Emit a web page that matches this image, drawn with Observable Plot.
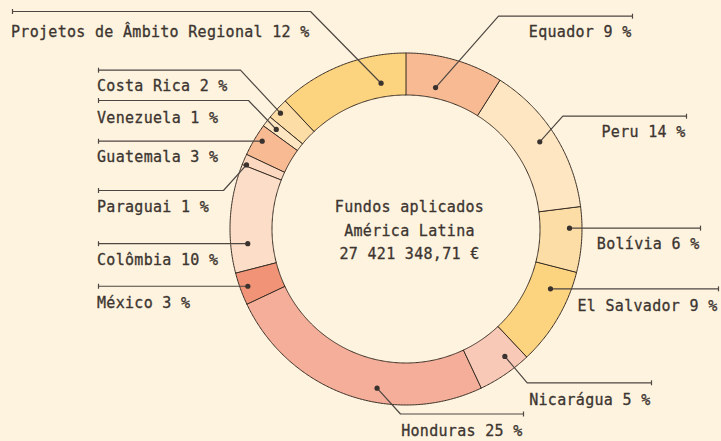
<!DOCTYPE html>
<html>
<head>
<meta charset="utf-8">
<script src="https://cdn.jsdelivr.net/npm/d3@7"></script>
<script src="https://cdn.jsdelivr.net/npm/@observablehq/plot@0.6"></script>
<style>
  html, body { margin: 0; padding: 0; background: #FEF3DE; }
  #chart svg { display: block; }
</style>
</head>
<body>
<div id="chart"></div>
<script>
// ---- Data ----
const names = ["Equador", "Peru", "Bolívia", "El Salvador", "Nicarágua", "Honduras", "México", "Colômbia", "Paraguai", "Guatemala", "Venezuela", "Costa Rica", "Projetos de Âmbito Regional"];
const shares = [9, 14, 6, 9, 5, 25, 3, 10, 1, 3, 1, 2, 12];
const colors = ["#F7BA92", "#FDE6C1", "#FCDDA5", "#FCD37F", "#F9C9B8", "#F4AE99", "#F09377", "#FCDEC8", "#FBD8BF", "#F7BA92", "#FDE6C1", "#FCDDA5", "#FCD37F"];
const centerLines = ["Fundos aplicados", "América Latina", "27 421 348,71 €"];

// ---- Layout (label placement, in px relative to ring centre) ----
const ringOuter = 176, ringInner = 134;
const labelLayout = [
  {dotAngle: 11.8,  dotR: 144.5, elbow: [92.5, -212.8],  end: 226.5,  side: "right", baseline: -191.8},
  {dotAngle: 56.9,  dotR: 159.7, elbow: [156.8, -112.8], end: 280.5,  side: "right", baseline: -91.8},
  {dotAngle: 89.7,  dotR: 163.5, elbow: null,            end: 294.5,  side: "right", baseline: 20.2},
  {dotAngle: 112.5, dotR: 156.4, elbow: null,            end: 312.5,  side: "right", baseline: 81.5},
  {dotAngle: 142.2, dotR: 161.3, elbow: [121.2, 153.8],  end: 245.5,  side: "right", baseline: 176.2},
  {dotAngle: 190.3, dotR: 161.8, elbow: [-5.5, 185],     end: 117.5,  side: "right", baseline: 206.5},
  {dotAngle: 250.1, dotR: 168.2, elbow: null,            end: -307.5, side: "left",  baseline: 79.2},
  {dotAngle: 264.7, dotR: 158.9, elbow: null,            end: -307.5, side: "left",  baseline: 35.8},
  {dotAngle: 291.9, dotR: 171.9, elbow: [-182.5, -38.5], end: -307.5, side: "left",  baseline: -16.8},
  {dotAngle: 301.4, dotR: 168.5, elbow: null,            end: -307.5, side: "left",  baseline: -66.8},
  {dotAngle: 307.5, dotR: 163.5, elbow: [-157.5, -128.5],end: -307.5, side: "left",  baseline: -105.8},
  {dotAngle: 312.7, dotR: 170.8, elbow: [-165.5, -158.8],end: -307.5, side: "left",  baseline: -137.8},
  {dotAngle: 350.3, dotR: 147.9, elbow: [-95.5, -217.5], end: -393.5, side: "left",  baseline: -192}
];
const centerBaselines = [-16.8, 7.2, 29.8];

const rad = d => d * Math.PI / 180;
const polar = (angle, r) => [r * Math.sin(rad(angle)), -r * Math.cos(rad(angle))];

// slice polygons
const slicePts = [];
let cum = 0;
names.forEach((name, i) => {
  const a0 = cum / 100 * 360, a1 = (cum + shares[i]) / 100 * 360;
  cum += shares[i];
  const n = Math.max(4, Math.ceil((a1 - a0) / 0.5));
  for (let k = 0; k <= n; k++) {
    const [x, y] = polar(a0 + (a1 - a0) * k / n, ringOuter);
    slicePts.push({name, x, y});
  }
  for (let k = n; k >= 0; k--) {
    const [x, y] = polar(a0 + (a1 - a0) * k / n, ringInner);
    slicePts.push({name, x, y});
  }
});

// leaders
const fs = 15;
const dots = [], leaderPts = [], ticks = [], labels = [];
names.forEach((name, i) => {
  const L = labelLayout[i];
  const [dx, dy] = polar(L.dotAngle, L.dotR);
  dots.push({x: dx, y: dy});
  const lineY = L.elbow ? L.elbow[1] : dy;
  leaderPts.push({id: i, x: dx, y: dy});
  if (L.elbow) leaderPts.push({id: i, x: L.elbow[0], y: L.elbow[1]});
  leaderPts.push({id: i, x: L.end, y: lineY});
  ticks.push({x: L.end, y1: lineY - 2.5, y2: lineY + 2.5});
  labels.push({
    x: L.side === "left" ? L.end - 1.5 : L.end - 1,
    y: L.baseline - 0.32 * fs,
    text: `${name} ${shares[i]} %`,
    anchor: L.side === "left" ? "start" : "end"
  });
});

const centerText = centerLines.map((t, i) => ({x: 3.5, y: centerBaselines[i] - 0.32 * fs, text: t}));

const font = "DejaVu Sans Mono";
const ink = "#3C3531";
const textOpts = {x: "x", y: "y", text: "text", fontSize: fs, fontFamily: font, fill: ink, stroke: ink, strokeWidth: 0.3};

const chart = Plot.plot({
  width: 721,
  height: 441,
  margin: 0,
  x: {domain: [-405.5, 315.5], range: [0, 721], axis: null},
  y: {domain: [-228.5, 212.5], range: [0, 441], axis: null},
  color: {domain: names, range: colors},
  style: {background: "#FEF3DE", fontFamily: font, letterSpacing: "0.3px"},
  marks: [
    Plot.line(slicePts, {x: "x", y: "y", z: "name", fill: "name", stroke: "#3A2F26", strokeWidth: 1, curve: "linear-closed"}),
    Plot.line(leaderPts, {x: "x", y: "y", z: "id", stroke: "#4E4743", strokeWidth: 1.2}),
    Plot.link(ticks, {x1: "x", x2: "x", y1: "y1", y2: "y2", stroke: "#4E4743", strokeWidth: 1.2}),
    Plot.dot(dots, {x: "x", y: "y", r: 2.6, fill: "#3A322E", stroke: null}),
    Plot.text(labels.filter(d => d.anchor === "start"), {...textOpts, textAnchor: "start"}),
    Plot.text(labels.filter(d => d.anchor === "end"), {...textOpts, textAnchor: "end"}),
    Plot.text(centerText, {...textOpts, textAnchor: "middle"})
  ]
});
document.getElementById("chart").appendChild(chart);
</script>
</body>
</html>
